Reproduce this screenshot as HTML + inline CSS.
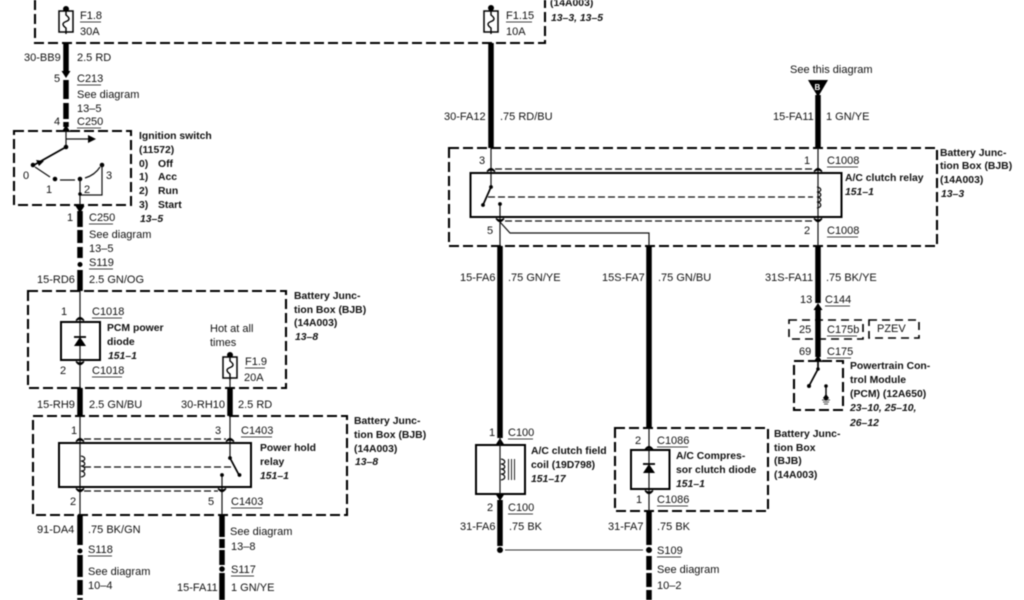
<!DOCTYPE html>
<html><head><meta charset="utf-8"><style>
html,body{margin:0;padding:0;background:#fff;width:1024px;height:600px;overflow:hidden}
svg{display:block;filter:blur(.45px)}
text{font-family:"Liberation Sans",sans-serif;font-size:11px;fill:#111}
.b{font-weight:bold;font-size:10.4px}
.i{font-weight:bold;font-style:italic;font-size:10.4px}
.d{fill:none;stroke:#000;stroke-width:2.1;stroke-dasharray:10 4}
.s{fill:none;stroke:#111;stroke-width:1.2}
.dn{fill:none;stroke:#111;stroke-width:1.2;stroke-dasharray:7 3}
.t{fill:none;stroke:#000;stroke-width:5.5}
.r{fill:none;stroke:#000;stroke-width:2}
.u{stroke:#444;stroke-width:1}
</style></head><body>
<svg width="1024" height="600" viewBox="0 0 1024 600" xmlns="http://www.w3.org/2000/svg">
<defs>
<g id="cu"><path d="M-4 2.5Q0 -3.500 4 2.5Q0 -.5 -4 2.5Z" fill="#000" stroke="#000" stroke-width="1.200"/></g>
<g id="cd"><path d="M-4 -2.5Q0 3.500 4 -2.5Q0 .5 -4 -2.5Z" fill="#000" stroke="#000" stroke-width="1.200"/></g>
<g id="tu"><path d="M-4.500 4L0 -3L4.500 4Z" fill="#000"/></g>
<g id="td"><path d="M-4.500 -4L0 3L4.500 -4Z" fill="#000"/></g>
<g id="fz"><rect x="-7" y="0" width="14" height="21" fill="#fff" stroke="#000" stroke-width="1.500"/><path d="M0 -2V4C4 7 4 9 0 10.500C-4 12 -4 14 0 17V23" fill="none" stroke="#000" stroke-width="1.400"/></g>
<g id="cl"><path d="M0 0C5 1 5 5 0 5C5 6 5 10 0 10C5 11 5 15 0 15C5 16 5 20 0 21" fill="none" stroke="#111" stroke-width="1.300"/></g>
<g id="dio"><path d="M-6 4H6L0 -5Z" fill="#000"/><path d="M-6 -5H6" stroke="#000" stroke-width="1.800"/></g>
</defs>

<!-- top box -->
<path class="d" d="M35 0V43H545V0"/>
<circle cx="66" cy="9" r="3" fill="#000"/><use href="#fz" x="66" y="11"/>
<text x="80" y="19">F1.8</text><line class="u" x1="80" y1="22" x2="101" y2="22"/><text x="80" y="35">30A</text>
<circle cx="491" cy="8" r="3" fill="#000"/><use href="#fz" x="491" y="11"/>
<text x="506" y="19">F1.15</text><line class="u" x1="506" y1="22" x2="532" y2="22"/><text x="506" y="35">10A</text>
<text class="b" x="550" y="6">(14A003)</text><text class="i" x="551" y="21">13–3, 13–5</text>

<!-- left upper wire -->
<path class="t" d="M66 43V72M66 80V99M66 103V119M66 122V127"/>
<use href="#td" x="66" y="75"/><use href="#tu" x="66" y="128"/>
<text x="24" y="61">30-BB9</text><text x="77" y="61">2.5 RD</text>
<text x="54" y="82">5</text><text x="77" y="82">C213</text><line class="u" x1="77" y1="85" x2="101" y2="85"/>
<text x="77" y="98">See diagram</text><text x="77" y="112">13–5</text>
<text x="54" y="125">4</text><text x="77" y="125">C250</text><line class="u" x1="77" y1="128" x2="101" y2="128"/>

<!-- ignition -->
<path class="d" d="M14 131H131V205H14Z"/>
<path class="s" d="M66 131V147"/><path class="s" d="M66 139H90"/><path d="M96 139L88 135V143Z" fill="#000"/>
<path d="M66 147L34 165" stroke="#000" stroke-width="1.800"/><path d="M36 160L44 161L39 166Z" fill="#000"/>
<circle cx="66" cy="147" r="2.300" fill="#000"/><circle cx="33" cy="165" r="2.300" fill="#000"/>
<circle cx="55" cy="179" r="2.300" fill="#000"/><circle cx="80" cy="179" r="2.300" fill="#000"/><circle cx="102" cy="165" r="2.300" fill="#000"/>
<path class="s" d="M35 167L50 177M60 180H75M85 178Q95 175 100 167" stroke-width="1.400"/>
<path class="s" d="M80 179V205M102 165V195H80"/><circle cx="80" cy="194" r="1.800" fill="#000"/>
<text x="23" y="179" font-size="10">0</text><text x="46" y="193">1</text><text x="84" y="193">2</text><text x="106" y="179">3</text>
<text class="b" x="139" y="139">Ignition switch</text><text class="b" x="139" y="153">(11572)</text>
<text class="b" x="139" y="167">0)</text><text class="b" x="158" y="167">Off</text>
<text class="b" x="139" y="180">1)</text><text class="b" x="158" y="180">Acc</text>
<text class="b" x="139" y="194">2)</text><text class="b" x="158" y="194">Run</text>
<text class="b" x="139" y="208">3)</text><text class="b" x="158" y="208">Start</text>
<text class="i" x="140" y="222">13–5</text>

<path class="t" d="M80 211V227M80 230V243M80 247V258M80 270V291"/>
<use href="#td" x="80" y="210"/><circle cx="80" cy="264.500" r="2.500" fill="#000"/>
<text x="67" y="221">1</text><text x="89" y="221">C250</text><line class="u" x1="89" y1="224" x2="113" y2="224"/>
<text x="89" y="238">See diagram</text><text x="89" y="252">13–5</text>
<text x="89" y="266">S119</text><line class="u" x1="89" y1="269" x2="113" y2="269"/>
<text x="37" y="283">15-RD6</text><text x="89" y="283">2.5 GN/OG</text>

<!-- PCM diode box -->
<path class="d" d="M28 291H286V388H28Z"/>
<path class="s" d="M80 291V388"/>
<use href="#cu" x="80" y="318"/><use href="#cd" x="80" y="364"/>
<rect class="r" x="61" y="322" width="39" height="38"/>
<use href="#dio" x="80" y="342"/>
<text x="61" y="315">1</text><text x="92" y="315">C1018</text><line class="u" x1="92" y1="318" x2="122" y2="318"/>
<text x="60" y="374">2</text><text x="92" y="374">C1018</text><line class="u" x1="92" y1="377" x2="122" y2="377"/>
<text class="b" x="107" y="331">PCM power</text><text class="b" x="107" y="345">diode</text><text class="i" x="108" y="359">151–1</text>
<text x="210" y="332">Hot at all</text><text x="210" y="346">times</text>
<circle cx="230" cy="355" r="3" fill="#000"/><use href="#fz" x="230" y="357"/>
<text x="245" y="365">F1.9</text><line class="u" x1="245" y1="368" x2="265" y2="368"/><text x="244" y="381">20A</text>
<path class="s" d="M230 378V388"/>
<text class="b" x="294" y="299">Battery Junc-</text><text class="b" x="294" y="313">tion Box (BJB)</text><text class="b" x="294" y="326">(14A003)</text><text class="i" x="295" y="340">13–8</text>

<path class="t" d="M80 388V416M230 388V416"/>
<text x="37" y="408">15-RH9</text><text x="89" y="408">2.5 GN/BU</text><text x="181" y="408">30-RH10</text><text x="238" y="408">2.5 RD</text>

<!-- Power hold relay -->
<path class="d" d="M33 416H347V515H33Z"/>
<path class="s" d="M80 416V515M230 416V458M222 475V515"/>
<use href="#cu" x="80" y="439"/><use href="#cu" x="230" y="439"/><use href="#cd" x="80" y="491"/><use href="#cd" x="222" y="491"/>
<path class="dn" d="M84 439H226M84 491H218"/>
<rect class="r" x="59" y="443" width="192" height="44"/>
<use href="#cl" x="81" y="456"/>
<path class="dn" d="M84 467H235"/>
<path d="M230 458L239 475" stroke="#000" stroke-width="1.700"/><circle cx="230" cy="458" r="1.900" fill="#000"/><circle cx="239.500" cy="475" r="1.900" fill="#000"/><circle cx="222" cy="475" r="1.900" fill="#000"/>
<text x="71" y="434">1</text><text x="215" y="434">3</text><text x="241" y="434">C1403</text><line class="u" x1="241" y1="437" x2="272" y2="437"/>
<text x="70" y="505">2</text><text x="208" y="505">5</text><text x="231" y="505">C1403</text><line class="u" x1="231" y1="508" x2="262" y2="508"/>
<text class="b" x="260" y="451">Power hold</text><text class="b" x="260" y="465">relay</text><text class="i" x="260" y="479">151–1</text>
<text class="b" x="354" y="424">Battery Junc-</text><text class="b" x="354" y="438">tion Box (BJB)</text><text class="b" x="354" y="452">(14A003)</text><text class="i" x="355" y="465">13–8</text>

<path class="t" d="M80 515V545M80 555V577M80 580V595M80 598V600M222 515V537M222 539V548M222 550V565M222 573V600"/>
<circle cx="80" cy="551" r="2.500" fill="#000"/><circle cx="222" cy="569" r="2.800" fill="#000"/>
<text x="37" y="533">91-DA4</text><text x="88" y="533">.75 BK/GN</text>
<text x="88" y="553">S118</text><line class="u" x1="88" y1="556" x2="112" y2="556"/>
<text x="88" y="575">See diagram</text><text x="88" y="589">10–4</text>
<text x="230" y="535">See diagram</text><text x="231" y="550">13–8</text>
<text x="231" y="573">S117</text><line class="u" x1="231" y1="576" x2="254" y2="576"/>
<text x="177" y="591">15-FA11</text><text x="231" y="591">1 GN/YE</text>

<!-- A/C relay -->
<path class="t" d="M491 43V148"/>
<text x="444" y="120">30-FA12</text><text x="500" y="120">.75 RD/BU</text>
<text x="790" y="73">See this diagram</text>
<path d="M808 80H828L818 97Z" fill="#000"/><text x="814.500" y="90" style="font-size:8px;font-weight:bold;fill:#fff">B</text>
<path class="t" d="M818 95V148"/>
<text x="773" y="120">15-FA11</text><text x="826" y="120">1 GN/YE</text>
<path class="d" d="M449 148H937V246H449Z"/>
<path class="s" d="M491 148V187M500 204V246M818 148V246M500 222L510 233H649V246"/>
<use href="#cu" x="491" y="169"/><use href="#cu" x="818" y="169"/><use href="#cd" x="500" y="221"/><use href="#cd" x="818" y="221"/>
<path class="dn" d="M495 169H814M505 221H814"/>
<rect class="r" x="470.500" y="173" width="371" height="44"/>
<path d="M491 187L483 205" stroke="#000" stroke-width="1.700"/><circle cx="491" cy="187" r="1.900" fill="#000"/><circle cx="483" cy="205" r="1.900" fill="#000"/><circle cx="500" cy="204" r="1.900" fill="#000"/>
<path class="dn" d="M488 197H813"/>
<use href="#cl" x="817" y="187"/>
<text x="479" y="164">3</text><text x="804" y="164">1</text><text x="827" y="164">C1008</text><line class="u" x1="827" y1="167" x2="858" y2="167"/>
<text x="487" y="234">5</text><text x="804" y="234">2</text><text x="827" y="234">C1008</text><line class="u" x1="827" y1="237" x2="858" y2="237"/>
<text class="b" x="845" y="181">A/C clutch relay</text><text class="i" x="845" y="195">151–1</text>
<text class="b" x="940" y="156">Battery Junc-</text><text class="b" x="940" y="169">tion Box (BJB)</text><text class="b" x="940" y="183">(14A003)</text><text class="i" x="941" y="197">13–3</text>

<!-- verticals below -->
<path class="t" d="M500 246V438M649 246V428M818 246V303M818 309V357"/>
<use href="#tu" x="818" y="306"/><use href="#tu" x="818" y="358"/>
<text x="460" y="281">15-FA6</text><text x="508" y="281">.75 GN/YE</text>
<text x="602" y="281">15S-FA7</text><text x="658" y="281">.75 GN/BU</text>
<text x="765" y="281">31S-FA11</text><text x="826" y="281">.75 BK/YE</text>
<text x="800" y="303">13</text><text x="825" y="303">C144</text><line class="u" x1="825" y1="306" x2="850" y2="306"/>
<path class="d" style="stroke-width:1.600;stroke-dasharray:8 5" d="M789 320H863V339H789Z"/>
<path class="d" style="stroke-width:1.600;stroke-dasharray:8 5" d="M869 320H919V338H869Z"/>
<text x="799" y="333">25</text><text x="827" y="333">C175b</text><line class="u" x1="827" y1="336" x2="857" y2="336"/><text x="877" y="332">PZEV</text>
<text x="799" y="355">69</text><text x="827" y="355">C175</text><line class="u" x1="827" y1="358" x2="851" y2="358"/>

<!-- PCM -->
<path class="d" d="M794 361H843V410H794Z"/>
<path d="M818 361V369L809 386" fill="none" stroke="#000" stroke-width="1.700"/><circle cx="818" cy="369" r="1.800" fill="#000"/><circle cx="809" cy="386" r="2" fill="#000"/>
<path d="M826 386V398" stroke="#000" stroke-width="1.400"/><circle cx="826" cy="386" r="1.800" fill="#000"/><path d="M823 398L826 394L829 398L826 401Z" fill="#000"/><path d="M822 400H830M823 402H829M824 404H828" stroke="#111" stroke-width=".8"/>
<text class="b" x="850" y="369">Powertrain Con-</text><text class="b" x="850" y="383">trol Module</text><text class="b" x="850" y="397">(PCM) (12A650)</text><text class="i" x="850" y="411">23–10, 25–10,</text><text class="i" x="850" y="426">26–12</text>

<!-- Clutch coil -->
<use href="#tu" x="500" y="441"/>
<rect class="r" x="476" y="445" width="49" height="49"/>
<path class="s" d="M500 436V498"/><use href="#cl" x="501" y="459"/>
<path d="M508.500 459V480M511.500 459V480M514.500 459V480" stroke="#222" stroke-width="1"/>
<text x="489" y="436">1</text><text x="508" y="436">C100</text><line class="u" x1="508" y1="439" x2="533" y2="439"/>
<text x="487" y="511">2</text><text x="508" y="511">C100</text><line class="u" x1="508" y1="514" x2="533" y2="514"/>
<text class="b" x="531" y="454">A/C clutch field</text><text class="b" x="531" y="468">coil (19D798)</text><text class="i" x="531" y="482">151–17</text>
<use href="#td" x="500" y="498"/>
<path class="t" d="M500 500V546"/>
<circle cx="500" cy="550" r="3" fill="#000"/><circle cx="649" cy="550" r="3" fill="#000"/>
<path d="M505 550H643" stroke="#333" stroke-width="1.100"/>
<text x="460" y="530">31-FA6</text><text x="509" y="530">.75 BK</text>
<text x="608" y="530">31-FA7</text><text x="657" y="530">.75 BK</text>

<!-- Compressor diode -->
<path class="d" d="M615 428H768V511H615Z"/>
<path class="s" d="M649 428V511"/>
<use href="#cu" x="649" y="447"/><use href="#cd" x="649" y="493"/>
<rect class="r" x="631" y="450" width="38.500" height="39"/>
<use href="#dio" x="649" y="469"/>
<text x="635" y="444">2</text><text x="657" y="444">C1086</text><line class="u" x1="657" y1="447" x2="688" y2="447"/>
<text x="636" y="503">1</text><text x="657" y="503">C1086</text><line class="u" x1="657" y1="506" x2="688" y2="506"/>
<text class="b" x="676" y="459">A/C Compres-</text><text class="b" x="676" y="473">sor clutch diode</text><text class="i" x="676" y="487">151–1</text>
<text class="b" x="774" y="437">Battery Junc-</text><text class="b" x="774" y="451">tion Box</text><text class="b" x="774" y="464">(BJB)</text><text class="b" x="774" y="478">(14A003)</text>
<path class="t" d="M649 511V545M649 556V570M649 573V587M649 590V600"/>
<text x="657" y="554">S109</text><line class="u" x1="657" y1="557" x2="681" y2="557"/>
<text x="657" y="573">See diagram</text><text x="657" y="589">10–2</text>
</svg>
</body></html>
